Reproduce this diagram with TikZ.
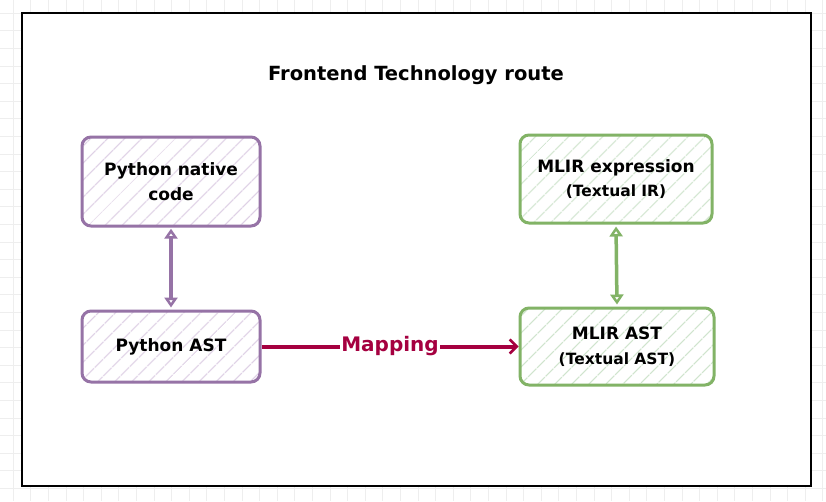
\documentclass[tikz,border=0pt]{standalone}
\usepackage{fontspec}
\setmainfont{DejaVu Sans}
\usetikzlibrary{arrows.meta,patterns.meta}
\definecolor{pstroke}{HTML}{9673A6}
\definecolor{pfill}{HTML}{DCCDE4}
\definecolor{gstroke}{HTML}{82B366}
\definecolor{gfill}{HTML}{CFE4CD}
\definecolor{mapc}{HTML}{A50040}
\definecolor{gridc}{HTML}{EEEEEE}
\newcommand{\subtxtfont}{\fontsize{15.5}{17}\selectfont}
\tikzset{
  x=1pt,y=-1pt,
  boxbase/.style={rounded corners=9pt, line width=3pt, align=center, inner sep=0pt, font=\bfseries\fontsize{17}{24.5}\selectfont},
  purplebox/.style={boxbase, draw=pstroke, pattern={Lines[angle=45,distance=13pt,line width=1.4pt]}, pattern color=pfill},
  greenbox/.style={boxbase, draw=gstroke, pattern={Lines[angle=45,distance=13pt,line width=1.4pt]}, pattern color=gfill},
  dbl/.style={line width=3.5pt, {Triangle[open,length=10pt,width=13pt,line width=3pt]}-{Triangle[open,length=10pt,width=13pt,line width=3pt]}},
}
\begin{document}
\begin{tikzpicture}
\useasboundingbox (0,0) rectangle (826,501);
\fill[white] (0,0) rectangle (826,501);
\foreach \i in {0,...,47} {\draw[gridc, line width=0.6pt] (13+\i*17.6,0) -- (13+\i*17.6,501);}
\foreach \j in {0,...,28} {\draw[gridc, line width=0.6pt] (0,13+\j*17.6) -- (826,13+\j*17.6);}
\node[draw=black, fill=white, line width=2pt, minimum width=789pt, minimum height=473pt, inner sep=0pt] (frame) at (416.5,249.5) {};
\node[font=\bfseries\fontsize{19.5}{22}\selectfont] (title) at (416,75) {Frontend Technology route};
\node[purplebox, minimum width=178pt, minimum height=89pt] (pnc) at (171,181.5) {Python native\\code};
\node[purplebox, minimum width=178pt, minimum height=71pt] (past) at (171,346.5) {Python AST};
\node[greenbox, minimum width=192pt, minimum height=88pt] (mexp) at (616,179) {MLIR expression\\{\subtxtfont (Textual IR)}};
\node[greenbox, minimum width=194pt, minimum height=77pt] (mast) at (617,346.5) {MLIR AST\\{\subtxtfont (Textual AST)}};
\draw[dbl, pstroke, shorten <=2pt, shorten >=2pt] (pnc.south) -- (past.north);
\draw[dbl, gstroke, shorten <=2pt, shorten >=2pt] (mexp.south) -- (mast.north);
\draw[mapc, line width=4pt, -{Straight Barb[length=7pt,width=14pt,line width=2.5pt]}] (past.east) -- node[fill=white, inner sep=1pt, font=\bfseries\fontsize{20}{24}\selectfont, text=mapc] (maplbl) {Mapping} (mast.west);
\end{tikzpicture}
\end{document}
